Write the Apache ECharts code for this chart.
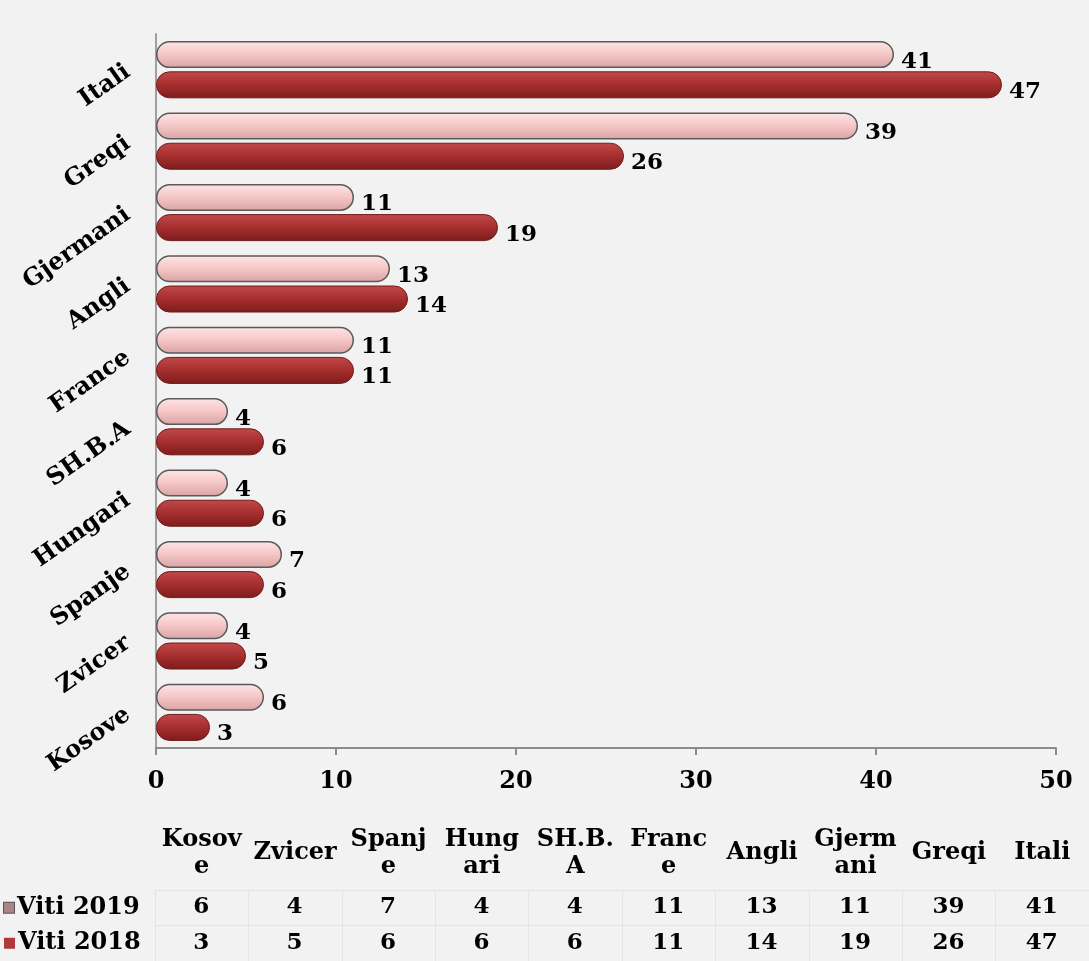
<!DOCTYPE html>
<html>
<head>
<meta charset="utf-8">
<script src="https://cdn.jsdelivr.net/npm/echarts@6/dist/echarts.min.js"></script>
<style>
  html, body { margin: 0; padding: 0; background: #f2f2f2; }
  #chart { width: 1089px; height: 961px; }
</style>
</head>
<body>
<div id="chart"></div>
<script>
// categories, bottom to top as in the chart
const countries = ["Kosove", "Zvicer", "Spanje", "Hungari", "SH.B.A", "France", "Angli", "Gjermani", "Greqi", "Itali"];
const tableHeaders = ["Kosov\ne", "Zvicer", "Spanj\ne", "Hung\nari", "SH.B.\nA", "Franc\ne", "Angli", "Gjerm\nani", "Greqi", "Itali"];
const viti2019 = [6, 4, 7, 4, 4, 11, 13, 11, 39, 41];
const viti2018 = [3, 5, 6, 6, 6, 11, 14, 19, 26, 47];
const xTicks = [0, 10, 20, 30, 40, 50];
const rowNames = ["Viti 2018", "Viti 2019"];

const FONT = "DejaVu Serif";

const pinkFill = new echarts.graphic.LinearGradient(0, 0, 0, 1, [
  { offset: 0, color: "#fde6e6" },
  { offset: 0.45, color: "#f7c9c9" },
  { offset: 1, color: "#d9a3a3" }
]);
const redFill = new echarts.graphic.LinearGradient(0, 0, 0, 1, [
  { offset: 0, color: "#c24a4a" },
  { offset: 0.45, color: "#a93030" },
  { offset: 1, color: "#7e1c1c" }
]);

const chart = echarts.init(document.getElementById("chart"), null, { renderer: "canvas" });

const labelStyle = {
  show: true,
  position: "right",
  distance: 7,
  offset: [0, 7],
  color: "#000",
  fontFamily: FONT,
  fontWeight: "bold",
  fontSize: 23
};

const tableData2019 = viti2019.map((v, i) => [i, "Viti 2019", v]);
const tableData2018 = viti2018.map((v, i) => [i, "Viti 2018", v]);

option = {
  backgroundColor: "#f2f2f2",
  animation: false,
  grid: [
    { left: 156, right: 33, top: 34, height: 714 },
    { left: 153, width: 940, top: 890, height: 72 }
  ],
  xAxis: [
    {
      gridIndex: 0,
      type: "value",
      min: xTicks[0],
      max: xTicks[xTicks.length - 1],
      interval: 10,
      splitLine: { show: false },
      axisLine: { show: true, lineStyle: { color: "#8c8c8c", width: 2 } },
      axisTick: { show: true, length: 7, lineStyle: { color: "#8c8c8c", width: 2 } },
      axisLabel: {
        margin: 22,
        color: "#000",
        fontFamily: FONT,
        fontWeight: "bold",
        fontSize: 24
      }
    },
    {
      gridIndex: 1,
      type: "category",
      position: "top",
      data: tableHeaders,
      axisLine: { show: false },
      axisTick: { show: false },
      splitLine: { show: true, lineStyle: { color: "#e4e4e4", width: 1 } },
      axisLabel: {
        interval: 0,
        margin: 37,
        verticalAlign: "middle",
        lineHeight: 27,
        color: "#000",
        fontFamily: FONT,
        fontWeight: "bold",
        fontSize: 24
      }
    }
  ],
  yAxis: [
    {
      gridIndex: 0,
      type: "category",
      data: countries,
      axisLine: { show: true, lineStyle: { color: "#a0a0a0", width: 2 } },
      axisTick: { show: false },
      axisLabel: {
        rotate: 35,
        margin: 28,
        color: "#000",
        fontFamily: FONT,
        fontWeight: "bold",
        fontSize: 24
      }
    },
    {
      gridIndex: 1,
      type: "category",
      data: rowNames,
      axisLine: { show: false },
      axisTick: { show: false },
      splitLine: { show: true, lineStyle: { color: "#e4e4e4", width: 1 } },
      axisLabel: {
        align: "left",
        margin: 151,
        formatter: v => (v === "Viti 2019" ? "{a|}" : "{b|}") + "{t|" + v + "}",
        rich: {
          a: { width: 10, height: 10, backgroundColor: "#a98585", borderColor: "#555", borderWidth: 1 },
          b: { width: 11, height: 11, backgroundColor: "#b03a3a" },
          t: { color: "#000", fontFamily: FONT, fontWeight: "bold", fontSize: 24, padding: [0, 0, 0, 3] }
        }
      }
    }
  ],
  series: [
    {
      name: "Viti 2019",
      type: "bar",
      xAxisIndex: 0,
      yAxisIndex: 0,
      data: viti2019,
      barWidth: 27,
      barGap: "12%",
      itemStyle: { color: pinkFill, borderColor: "#5a5a5a", borderWidth: 1.5, borderRadius: 13 },
      label: labelStyle
    },
    {
      name: "Viti 2018",
      type: "bar",
      xAxisIndex: 0,
      yAxisIndex: 0,
      data: viti2018,
      barWidth: 27,
      barGap: "12%",
      itemStyle: { color: redFill, borderColor: "#6e1a1a", borderWidth: 1, borderRadius: 13 },
      label: labelStyle
    },
    {
      type: "scatter",
      xAxisIndex: 1,
      yAxisIndex: 1,
      symbolSize: 1,
      itemStyle: { color: "#f2f2f2", opacity: 1 },
      data: tableData2019.concat(tableData2018),
      label: {
        show: true,
        position: [0, 0],
        align: "center",
        verticalAlign: "middle",
        formatter: p => p.value[2],
        color: "#000",
        textBorderWidth: 0,
        fontFamily: FONT,
        fontWeight: "bold",
        fontSize: 23
      }
    }
  ]
};

chart.setOption(option);
</script>
</body>
</html>
